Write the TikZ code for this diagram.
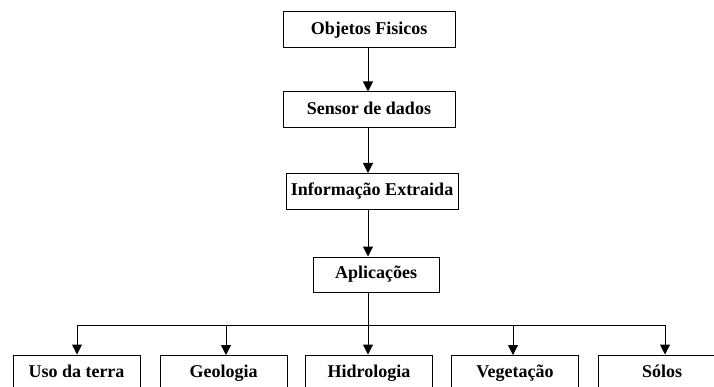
\documentclass[tikz,border=0pt]{standalone}
\usepackage{fontspec}
\setmainfont{Liberation Serif}
\usetikzlibrary{arrows.meta}

\begin{document}
\begin{tikzpicture}[x=1pt,y=-1pt,
		caixa/.style={draw,line width=1pt,fill=white,inner sep=0pt,
			minimum width=172pt,minimum height=36pt,text height=12.5pt,text depth=4pt,
			font=\bfseries\fontsize{18}{20}\selectfont},
		baixo/.style={caixa,minimum width=127pt},
		seta/.style={line width=1pt,-{Triangle[length=10pt,width=10pt]}}]
		\useasboundingbox (0,0) rectangle (714,387);
		\clip (0,0) rectangle (714,387);
		\node [caixa] (obj) at (369,30) {Objetos Fisicos};
		\node [caixa] (sensor) at (369,110) {Sensor de dados};
		\node [caixa] (info) at (372,191.5) {Informação Extraida};
		\node [caixa,minimum width=126pt,minimum height=35pt] (apl) at (376,274.5) {Aplicações};
		\node [baixo] (uso) at (76.5,373) {Uso da terra};
		\node [baixo] (geo) at (223.5,373) {Geologia};
		\node [baixo] (hidro) at (369,373) {Hidrologia};
		\node [baixo] (veg) at (515,373) {Vegetação};
		\node [baixo] (solos) at (662,373) {Sólos};
		\coordinate (eixo) at (368,0);
		\coordinate (esq) at (77,325);
		\coordinate (dir) at (665,325);
		\draw [seta] (obj.south -| eixo) -- (sensor.north -| eixo);
		\draw [seta] (sensor.south -| eixo) -- (info.north -| eixo);
		\draw [seta] (info.south -| eixo) -- (apl.north -| eixo);
		\draw [seta] (apl.south -| eixo) -- (hidro.north -| eixo);
		\draw [line width=1pt] (esq) -- (dir);
		\draw [seta] (esq) -- (uso.north -| esq);
		\draw [seta] (geo.north |- esq) ++(2.5,0) -- ++(0,30);
		\draw [seta] (veg.north |- esq) ++(-2,0) -- ++(0,30);
		\draw [seta] (dir) -- (solos.north -| dir);
	\end{tikzpicture}
\end{document}
